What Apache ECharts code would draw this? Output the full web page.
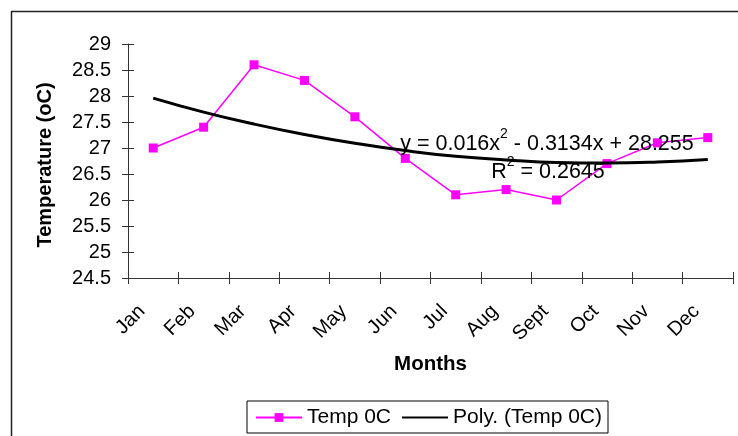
<!DOCTYPE html>
<html>
<head>
<meta charset="utf-8">
<script src="https://cdn.jsdelivr.net/npm/echarts@6/dist/echarts.min.js"></script>
<style>
html,body{margin:0;padding:0;background:#fff;}
#chart{width:738px;height:436px;}
</style>
</head>
<body>
<div id="chart"></div>
<script>
const months = ['Jan','Feb','Mar','Apr','May','Jun','Jul','Aug','Sept','Oct','Nov','Dec'];
const temp = [27.0, 27.4, 28.6, 28.3, 27.6, 26.8, 26.1, 26.2, 26.0, 26.7, 27.1, 27.2];
const trend = [27.96, 27.69, 27.46, 27.26, 27.09, 26.95, 26.84, 26.77, 26.72, 26.71, 26.73, 26.78];
const seriesNames = ['Temp 0C', 'Poly. (Temp 0C)'];
const yTitle = 'Temperature (oC)';
const xTitle = 'Months';
const eqParts = ['y = 0.016x', '2', ' - 0.3134x + 28.255'];
const r2Parts = ['R', '2', ' = 0.2645'];

const FONT = '"Liberation Sans", Arial, sans-serif';
const chart = echarts.init(document.getElementById('chart'));

function axisX(inside, labels) {
  return {
    type: 'category', data: months, position: 'bottom', boundaryGap: true,
    axisLine: {show: !inside, lineStyle: {color: '#333', width: 1}},
    axisTick: {show: true, inside: inside, length: 6, lineStyle: {color: '#333'}},
    axisLabel: {show: labels, interval: 0, rotate: 45, margin: 19, padding: [0, 16, 0, 0],
      fontSize: 20, color: '#000', fontFamily: FONT},
    splitLine: {show: false},
    name: labels ? xTitle : '', nameLocation: 'middle', nameGap: 76,
    nameTextStyle: {fontSize: 20.5, fontWeight: 'bold', color: '#000', fontFamily: FONT}
  };
}
function axisY(inside, labels) {
  return {
    type: 'value', min: 24.5, max: 29, interval: 0.5, position: 'left',
    axisLine: {show: !inside, lineStyle: {color: '#333', width: 1}},
    axisTick: {show: true, inside: inside, length: 6, lineStyle: {color: '#333'}},
    axisLabel: {show: labels, margin: 17, fontSize: 20, color: '#000', fontFamily: FONT},
    splitLine: {show: false}
  };
}

const richText = {
  n: {fontSize: 21.5, fill: '#000', fontFamily: FONT, lineHeight: 34},
  s: {fontSize: 14, fill: '#000', fontFamily: FONT, lineHeight: 11, verticalAlign: 'top'}
};

chart.setOption({
  animation: false,
  backgroundColor: '#fff',
  grid: {left: 128, right: 5, top: 44, bottom: 158, containLabel: false},
  xAxis: [axisX(false, true), axisX(true, false)],
  yAxis: [axisY(false, true), axisY(true, false)],
  legend: {
    left: 247, top: 401,
    data: [
      {name: seriesNames[0]},
      {name: seriesNames[1], itemStyle: {opacity: 0}}
    ],
    itemWidth: 46, itemHeight: 11, itemGap: 10,
    padding: [6, 6, 5, 8],
    borderColor: '#000', borderWidth: 1,
    textStyle: {fontSize: 21, color: '#000', fontFamily: FONT}
  },
  series: [
    {
      name: seriesNames[0], type: 'line', data: temp,
      xAxisIndex: 0, yAxisIndex: 0,
      symbol: 'rect', symbolSize: 9,
      lineStyle: {color: '#FF00FF', width: 1.5},
      itemStyle: {color: '#FF00FF'},
      z: 2
    },
    {
      name: seriesNames[1], type: 'line', data: trend,
      xAxisIndex: 0, yAxisIndex: 0,
      symbol: 'none', smooth: true,
      lineStyle: {color: '#000', width: 3},
      itemStyle: {color: '#000'},
      z: 3
    }
  ],
  graphic: [
    {
      type: 'rect', silent: true, z: -1,
      shape: {x: 11.5, y: 11.5, width: 800, height: 500},
      style: {fill: null, stroke: '#222', lineWidth: 1.5}
    },
    {
      type: 'text', x: 45.7, y: 165, rotation: Math.PI / 2, silent: true,
      style: {text: yTitle, fontSize: 20, fontWeight: 'bold', fill: '#000', fontFamily: FONT,
        align: 'center', verticalAlign: 'middle'}
    },
    {
      type: 'text', x: 547, y: 144, silent: true, z: 10,
      style: {
        text: '{n|' + eqParts[0] + '}{s|' + eqParts[1] + '}{n|' + eqParts[2] + '}',
        align: 'center', verticalAlign: 'middle', rich: richText
      }
    },
    {
      type: 'text', x: 548, y: 172, silent: true, z: 10,
      style: {
        text: '{n|' + r2Parts[0] + '}{s|' + r2Parts[1] + '}{n|' + r2Parts[2] + '}',
        align: 'center', verticalAlign: 'middle', rich: richText
      }
    }
  ]
});
</script>
</body>
</html>
